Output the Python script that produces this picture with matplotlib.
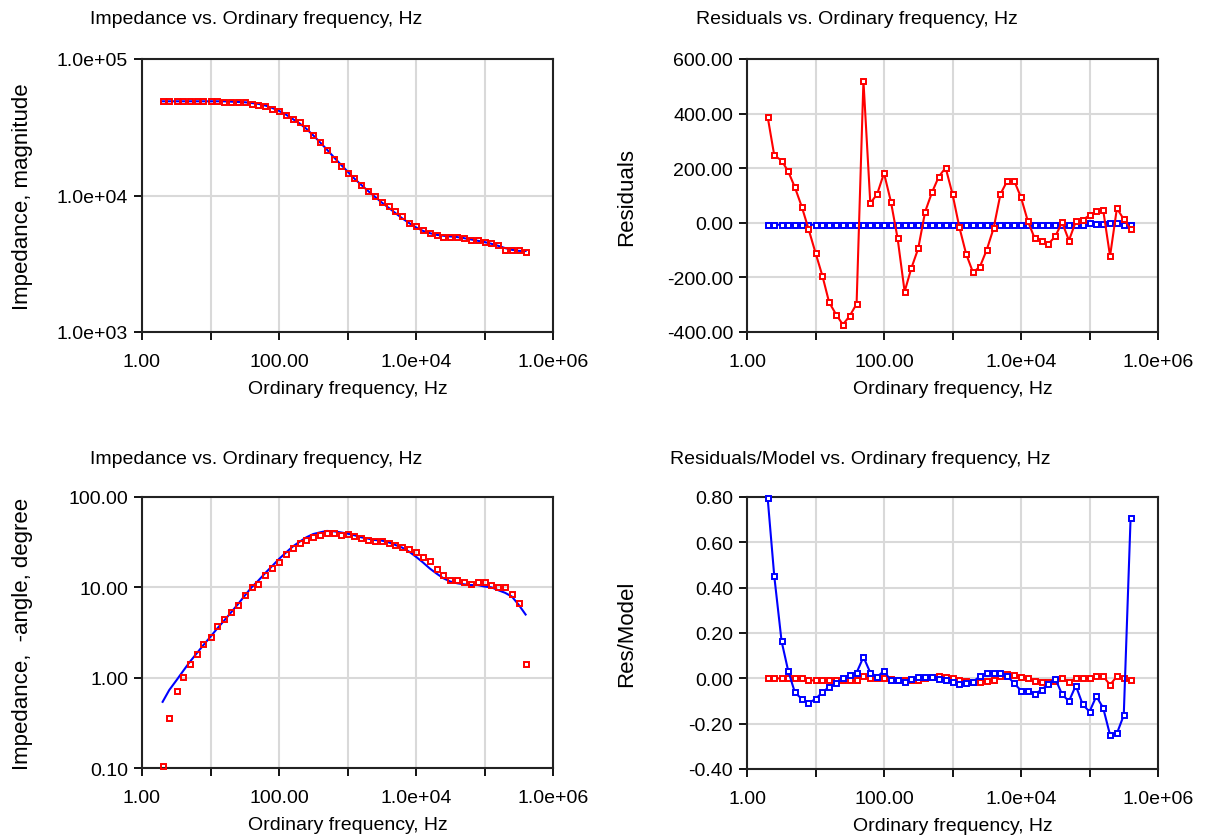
import matplotlib
matplotlib.use("Agg")
import matplotlib.pyplot as plt
from matplotlib.ticker import FixedLocator, FixedFormatter, NullLocator

plt.rcParams['font.family'] = ['Liberation Sans', 'DejaVu Sans']

# ordinary frequency, Hz (10 points per decade)
freq = [2.0, 2.5, 3.2, 4.0, 5.0, 6.3, 7.9, 10.0, 12.6, 15.8,
        20.0, 25.1, 31.6, 39.8, 50.1, 63.1, 79.4, 100.0, 126.0, 158.0,
        200.0, 251.0, 316.0, 398.0, 501.0, 631.0, 794.0, 1000.0, 1259.0, 1585.0,
        1995.0, 2512.0, 3162.0, 3981.0, 5012.0, 6310.0, 7943.0, 10000.0, 12589.0, 15849.0,
        19953.0, 25119.0, 31623.0, 39811.0, 50119.0, 63096.0, 79433.0, 100000.0, 125893.0, 158489.0,
        199526.0, 251189.0, 316228.0, 398107.0]

# impedance magnitude: measured / model
mag_meas = [49000, 49000, 49000, 49000, 49000, 49000, 49000, 49000, 49000, 48700,
            48200, 48200, 48200, 46900, 46400, 45100, 43300, 41700, 39200, 36600,
            34600, 31400, 27800, 24700, 21700, 18550, 16400, 14560, 13390, 11840,
            10880, 9890, 8990, 8310, 7680, 7060, 6310, 5930, 5610, 5300,
            5150, 4990, 4990, 4990, 4850, 4690, 4710, 4560, 4460, 4310,
            3960, 3960, 4000, 3870]
mag_model = [49000, 49000, 49000, 49000, 49000, 49000, 49000, 49000, 49000, 49000,
             48700, 48400, 48200, 47600, 46900, 45600, 43800, 41700, 39200, 36400,
             33700, 30800, 27600, 24500, 21700, 19100, 16900, 15000, 13300, 11970,
             10800, 9780, 8890, 8130, 7430, 6800, 6280, 5840, 5510, 5300,
             5150, 5070, 5010, 4960, 4870, 4770, 4660, 4560, 4430, 4280,
             4120, 4000, 3930, 3920]

# impedance -angle, degree: measured / model
ang_meas = [0.106, 0.36, 0.71, 1.01, 1.42, 1.81, 2.38, 2.84, 3.73, 4.46,
            5.38, 6.37, 8.22, 10.0, 10.9, 13.7, 16.5, 18.9, 23.4, 27.0,
            31.0, 33.4, 36.4, 38.0, 40.3, 40.3, 38.3, 39.0, 36.7, 34.8,
            33.4, 32.3, 32.3, 31.0, 29.7, 28.2, 26.8, 24.8, 21.5, 19.6,
            16.0, 13.7, 12.1, 12.1, 11.4, 11.0, 11.4, 11.5, 10.5, 10.0,
            10.0, 8.5, 6.7, 1.42]
ang_model = [0.54, 0.73, 0.94, 1.19, 1.50, 1.86, 2.30, 2.84, 3.52, 4.28,
             5.29, 6.49, 8.09, 10.0, 11.9, 14.4, 17.2, 20.6, 24.2, 28.2,
             32.0, 35.8, 38.9, 40.6, 42.1, 41.7, 40.6, 39.3, 37.7, 35.8,
             34.6, 33.4, 32.9, 31.5, 29.4, 27.5, 24.8, 21.8, 18.9, 16.2,
             14.2, 12.6, 11.6, 11.1, 10.8, 10.6, 10.6, 10.2, 10.0, 9.3,
             8.7, 7.9, 6.4, 5.0]

# residuals
res_red = [389, 247, 228, 188, 130, 59, -22, -110, -194, -291,
           -336, -373, -341, -297, 520, 72, 105, 182, 78, -57,
           -252, -166, -94, 40, 111, 169, 202, 105, -16, -115,
           -182, -161, -99, -20, 105, 154, 154, 93, 6, -57,
           -65, -77, -50, 2, -65, 5, 11, 27, 42, 46,
           -122, 53, 13, -24]
res_blue = [-7, -7, -7, -7, -7, -7, -7, -7, -7, -7,
            -7, -7, -7, -7, -7, -7, -7, -7, -7, -7,
            -7, -7, -7, -7, -7, -7, -7, -7, -7, -7,
            -7, -7, -7, -7, -7, -7, -7, -7, -7, -7,
            -7, -7, -7, -7, -7, -7, -7, 1, -5, -5,
            1, 1, -7, -7]

# residuals / model
rm_blue = [0.797, 0.451, 0.163, 0.032, -0.062, -0.091, -0.110, -0.091, -0.062, -0.038,
           -0.022, 0.0, 0.016, 0.025, 0.094, 0.025, 0.007, 0.032, -0.009, -0.009,
           -0.015, -0.001, 0.007, 0.007, 0.007, -0.001, -0.009, -0.018, -0.024, -0.022,
           -0.015, 0.009, 0.025, 0.025, 0.025, 0.010, -0.022, -0.054, -0.054, -0.069,
           -0.051, -0.024, -0.001, -0.071, -0.101, -0.032, -0.115, -0.147, -0.079, -0.131,
           -0.250, -0.243, -0.163, 0.709]
rm_red = [0.0, 0.0, 0.0, 0.0, 0.0, 0.0, -0.009, -0.009, -0.009, -0.009,
          -0.006, -0.009, -0.009, -0.009, 0.009, 0.003, 0.003, 0.0, -0.004, -0.006,
          -0.006, -0.009, -0.009, 0.003, 0.007, 0.009, 0.004, 0.0, -0.006, -0.012,
          -0.015, -0.015, -0.012, -0.007, 0.009, 0.019, 0.015, 0.007, 0.0, -0.012,
          -0.016, -0.016, -0.012, 0.0, -0.016, 0.0, 0.0, 0.0, 0.009, 0.009,
          -0.029, 0.009, 0.0, -0.009]

x_ticks = [1, 10, 100, 1e3, 1e4, 1e5, 1e6]
x_labels = ['1.00', '', '100.00', '', '1.0e+04', '', '1.0e+06']

RED = '#FF0000'
BLUE = '#0000FF'
GRID = '#D9D9D9'
FS = 14
FS_Y = 16
MS = 3.6

W, H = 1207, 837
fig = plt.figure(figsize=(W / 100, H / 100), dpi=100)


def make_axes(x0, y0, x1, y1):
    return fig.add_axes([x0 / W, 1 - y1 / H, (x1 - x0) / W, (y1 - y0) / H])


def style(ax, title, ylabel, title_x, title_y, ylabel_x):
    ax.set_xscale('log')
    ax.set_xlim(1, 1e6)
    ax.xaxis.set_major_locator(FixedLocator(x_ticks))
    ax.xaxis.set_major_formatter(FixedFormatter(x_labels))
    ax.xaxis.set_minor_locator(NullLocator())
    ax.grid(True, color=GRID, linewidth=1.5)
    ax.set_axisbelow(True)
    for s in ax.spines.values():
        s.set_color('#222222')
        s.set_linewidth(1.5)
    ax.tick_params(direction='out', length=6, width=1.3, labelsize=FS, pad=4)
    ax.tick_params(axis='x', pad=9)
    ax.set_xlabel('Ordinary frequency, Hz', fontsize=FS, labelpad=7)
    ax.set_ylabel(ylabel, fontsize=FS_Y)
    pos = ax.get_position()
    ax.yaxis.set_label_coords((ylabel_x - pos.x0 * W) / (pos.width * W), 0.5)
    fig.text(title_x / W, 1 - title_y / H, title, fontsize=FS, ha='center', va='center')


# top-left: magnitude
ax1 = make_axes(142, 60, 553, 333)
ax1.plot(freq, mag_model, color=BLUE, linewidth=1.5, zorder=2)
ax1.plot(freq, mag_meas, linestyle='none', marker='s', ms=MS, mfc='none', mec=RED, mew=1.4, zorder=3)
ax1.set_yscale('log')
ax1.set_ylim(1e3, 1e5)
ax1.yaxis.set_major_locator(FixedLocator([1e3, 1e4, 1e5]))
ax1.yaxis.set_major_formatter(FixedFormatter(['1.0e+03', '1.0e+04', '1.0e+05']))
ax1.yaxis.set_minor_locator(NullLocator())
style(ax1, 'Impedance vs. Ordinary frequency, Hz', 'Impedance, magnitude', 256, 20, 33)

# top-right: residuals
ax2 = make_axes(747, 60, 1158, 333)
ax2.plot(freq, res_red, color=RED, linewidth=1.5, marker='s', ms=MS, mfc='white', mec=RED, mew=1.4, zorder=3)
ax2.plot(freq, res_blue, color=BLUE, linewidth=1.5, marker='s', ms=MS, mfc='white', mec=BLUE, mew=1.4, zorder=2)
ax2.set_ylim(-400, 600)
ax2.yaxis.set_major_locator(FixedLocator([-400, -200, 0, 200, 400, 600]))
ax2.yaxis.set_major_formatter(FixedFormatter(['-400.00', '-200.00', '0.00', '200.00', '400.00', '600.00']))
style(ax2, 'Residuals vs. Ordinary frequency, Hz', 'Residuals', 857, 20, 637)

# bottom-left: angle
ax3 = make_axes(142, 498, 553, 769)
ax3.plot(freq, ang_model, color=BLUE, linewidth=1.5, zorder=2)
ax3.plot(freq, ang_meas, linestyle='none', marker='s', ms=MS, mfc='none', mec=RED, mew=1.4, zorder=3,
         clip_on=False)
ax3.set_yscale('log')
ax3.set_ylim(0.1, 100)
ax3.yaxis.set_major_locator(FixedLocator([0.1, 1, 10, 100]))
ax3.yaxis.set_major_formatter(FixedFormatter(['0.10', '1.00', '10.00', '100.00']))
ax3.yaxis.set_minor_locator(NullLocator())
style(ax3, 'Impedance vs. Ordinary frequency, Hz', 'Impedance,  -angle, degree', 256, 460, 33)

# bottom-right: residuals / model
ax4 = make_axes(747, 498, 1158, 770)
ax4.plot(freq, rm_red, color=RED, linewidth=1.5, marker='s', ms=MS, mfc='white', mec=RED, mew=1.4, zorder=2)
ax4.plot(freq, rm_blue, color=BLUE, linewidth=1.5, marker='s', ms=MS, mfc='white', mec=BLUE, mew=1.4, zorder=3,
         clip_on=False)
ax4.set_ylim(-0.4, 0.8)
ax4.yaxis.set_major_locator(FixedLocator([-0.4, -0.2, 0, 0.2, 0.4, 0.6, 0.8]))
ax4.yaxis.set_major_formatter(FixedFormatter(['-0.40', '-0.20', '0.00', '0.20', '0.40', '0.60', '0.80']))
style(ax4, 'Residuals/Model vs. Ordinary frequency, Hz', 'Res/Model', 860, 460, 637)

fig.savefig('out.png', dpi=100)
